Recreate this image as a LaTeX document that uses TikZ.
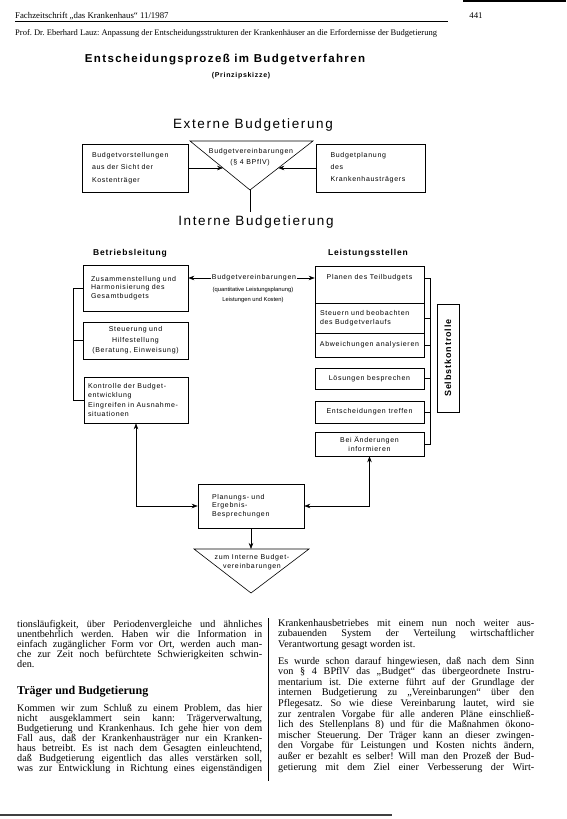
\documentclass[tikz,border=0pt]{standalone}
\usepackage{fontspec}
\setmainfont{Liberation Serif}
\newfontfamily\dg[LetterSpace=10]{Liberation Sans}
\newfontfamily\dgt[LetterSpace=12]{Liberation Sans}
\newfontfamily\dgn{Liberation Sans}
\usetikzlibrary{arrows.meta,calc}
\frenchspacing
\newcommand\jl[1]{\makebox[245pt][s]{#1}}
\newcommand\jr[1]{\makebox[256pt][s]{#1}}
\begin{document}
\begin{tikzpicture}[x=1pt,y=-1pt,
  ln/.style={line width=0.6pt},
  arr/.style={ln,-{Stealth[length=6pt,width=4.5pt]}},
  darr/.style={ln,{Stealth[length=6pt,width=4.5pt]}-{Stealth[length=6pt,width=4.5pt]}},
  bx/.style={draw,ln,inner ysep=0pt,align=left,font=\fontsize{7}{9}\dg},
  lbl/.style={font=\fontsize{7}{8}\dg,inner sep=1pt},
  txt/.style={anchor=base west,inner sep=0pt,font=\fontsize{10.2}{10.5}\selectfont},
  hd/.style={font=\fontsize{13.5}{15}\dgt}
]
\fill[white] (0,0) rectangle (566,819);
\useasboundingbox (0,0) rectangle (566,819);

% ---------- header ----------
\node[anchor=base west,inner sep=0pt,font=\fontsize{8.8}{10}\selectfont] (h1) at (15,18) {Fachzeitschrift „das Krankenhaus“ 11/1987};
\draw[line width=0.5pt] (h1.south west) ++(0,1.5) -- ++(433,0);
\node[anchor=base,inner sep=0pt,font=\fontsize{8.8}{10}\selectfont] (pg) at (476,18) {441};
\node[anchor=base west,inner sep=0pt,font=\fontsize{8.5}{10}\selectfont] (h2) at (15,35) {Prof. Dr. Eberhard Lauz: Anpassung der Entscheidungsstrukturen der Krankenhäuser an die Erfordernisse der Budgetierung};
\draw[line width=2.5pt] (463,1) -- (566,1);

% ---------- title ----------
\node[font=\fontsize{11.5}{13}\dgt\bfseries] (title) at (225,60) {Entscheidungsprozeß im Budgetverfahren};
\node[font=\fontsize{7}{8}\dg\bfseries] (sub) at (241,76) {(Prinzipskizze)};

% ---------- external budgeting ----------
\node[hd] (ext) at (253,125) {Externe Budgetierung};
\node[bx,minimum height=48pt,text width=86pt,inner xsep=10pt,font=\fontsize{7}{12.5}\dg] (kt) at (135,168) {Budgetvorstellungen\\aus der Sicht der\\Kostenträger};
\node[bx,minimum height=48pt,text width=80pt,inner xsep=14.5pt,font=\fontsize{7}{12}\dg] (kh) at (370.5,168) {Budgetplanung\\des\\Krankenhausträgers};
\coordinate (tl) at (190,141);
\coordinate (tr) at (313,141);
\coordinate (ta) at (250,190);
\draw[ln] (tl) -- (tr) -- (ta) -- cycle;
\node[lbl] (bv1) at (251,152) {Budgetvereinbarungen};
\node[lbl] (bv2) at (250,163) {(§ 4 BPflV)};
\coordinate (pL) at ($(tl)!0.551!(ta)$);
\coordinate (pR) at ($(tr)!0.551!(ta)$);
\draw[arr] (kt.east) -- (kt.east -| pL);
\draw[arr] (kh.west) -- (kh.west -| pR);
\node[hd] (int) at (256,222) {Interne Budgetierung};
\draw[ln] (ta) -- (ta |- int.north);

% ---------- internal budgeting ----------
\node[font=\fontsize{8.5}{10}\dg\bfseries] (bl) at (130,253) {Betriebsleitung};
\node[font=\fontsize{8.5}{10}\dg\bfseries] (ls) at (368,253) {Leistungsstellen};

\node[bx,minimum height=46pt,text width=89pt,inner xsep=8pt,font=\fontsize{7}{8.5}\dg] (b1) at (135.5,288) {Zusammenstellung und\\Harmonisierung des\\Gesamtbudgets};
\node[bx,minimum height=37pt,text width=95pt,inner xsep=5pt,align=center,font=\fontsize{7}{10.5}\dg] (b2) at (135.5,340.5) {Steuerung und\\Hilfestellung\\(Beratung, Einweisung)};
\node[bx,minimum height=46pt,text width=96pt,inner xsep=4pt,font=\fontsize{7}{9.5}\dg] (b3) at (136,400) {Kontrolle der Budget-\\entwicklung\\Eingreifen in Ausnahme-\\situationen};
\draw[ln] (b1.west) -- ++(-9,0) coordinate (lb) -- (lb |- b3.west) -- (b3.west);
\draw[ln] (b2.west) -- (b2.west -| lb);

\node[bx,minimum width=109pt,minimum height=37pt] (r1) at (369.5,284.5) {};
\node[lbl] (r1t) at (369.5,278) {Planen des Teilbudgets};
\node[bx,minimum height=30pt,text width=99pt,inner xsep=5pt] (r2) at (369.5,318) {Steuern und beobachten\\des Budgetverlaufs};
\node[bx,minimum width=109pt,minimum height=24pt,align=center] (r3) at (369.5,345) {Abweichungen analysieren};
\node[bx,minimum width=109pt,minimum height=21pt,align=center] (r4) at (369.5,378.5) {Lösungen besprechen};
\node[bx,minimum width=109pt,minimum height=22pt,align=center] (r5) at (369.5,412) {Entscheidungen treffen};
\node[bx,minimum width=109pt,minimum height=24pt,align=center] (r6) at (369.5,444) {Bei Änderungen\\informieren};
\draw[ln] (r1t.center -| r1.east) -- ++(6,0) coordinate (rb) -- (rb |- r6.east) -- (r6.east);
\foreach \n in {r2,r3,r4,r5} \draw[ln] (\n.east) -- (\n.east -| rb);

\node[draw,ln,rotate=90,minimum width=108pt,minimum height=22pt,inner sep=0pt,font=\fontsize{9}{10}\dg\bfseries] (sk) at (448,358) {Selbstkontrolle};

\node[lbl] (bvi) at (254,278) {Budgetvereinbarungen};
\draw[arr] (bvi.west) -- (bvi.west -| b1.east);
\draw[arr] (bvi.east) -- (bvi.east -| r1.west);
\node[font=\fontsize{5.8}{7}\dgn,inner sep=1pt] (ql) at (253,290) {(quantitative Leistungsplanung)};
\node[font=\fontsize{5.8}{7}\dgn,inner sep=1pt] (lk) at (253,300) {Leistungen und Kosten)};

\node[bx,minimum height=44pt,text width=78pt,inner xsep=14pt,font=\fontsize{7}{8.5}\dg] (bp) at (251,506) {Planungs- und\\Ergebnis-\\Besprechungen};
\draw[darr] (b3.south) |- (bp.west);
\draw[darr] (r6.south) |- (bp.east);

\coordinate (ul) at (194,549);
\coordinate (ur) at (309,549);
\coordinate (ua) at (251,593);
\draw[ln] (ul) -- (ur) -- (ua) -- cycle;
\draw[arr] (bp.south) -- (bp.south |- ul);
\node[lbl] (zi1) at (252,558) {zum Interne Budget-};
\node[lbl] (zi2) at (252,567) {vereinbarungen};

% ---------- body text ----------
\node[txt] (l1) at (17,627) {\jl{tionsläufigkeit, über Periodenvergleiche und ähnliches}};
\node[txt] (l2) at (17,637) {\jl{unentbehrlich werden. Haben wir die Information in}};
\node[txt] (l3) at (17,647) {\jl{einfach zugänglicher Form vor Ort, werden auch man-}};
\node[txt] (l4) at (17,657) {\jl{che zur Zeit noch befürchtete Schwierigkeiten schwin-}};
\node[txt] (l5) at (17,667) {den.};
\node[anchor=base west,inner sep=0pt,font=\fontsize{12}{14}\selectfont\bfseries] (hl) at (17,694) {Träger und Budgetierung};
\node[txt] (l6) at (17,711) {\jl{Kommen wir zum Schluß zu einem Problem, das hier}};
\node[txt] (l7) at (17,721) {\jl{nicht ausgeklammert sein kann: Trägerverwaltung,}};
\node[txt] (l8) at (17,731) {\jl{Budgetierung und Krankenhaus. Ich gehe hier von dem}};
\node[txt] (l9) at (17,741) {\jl{Fall aus, daß der Krankenhausträger nur ein Kranken-}};
\node[txt] (l10) at (17,751) {\jl{haus betreibt. Es ist nach dem Gesagten einleuchtend,}};
\node[txt] (l11) at (17,761) {\jl{daß Budgetierung eigentlich das alles verstärken soll,}};
\node[txt] (l12) at (17,771) {\jl{was zur Entwicklung in Richtung eines eigenständigen}};

\draw[line width=0.5pt] (268,618) -- (268,781);

\node[txt] (r01) at (278,626) {\jr{Krankenhausbetriebes mit einem nun noch weiter aus-}};
\node[txt] (r02) at (278,636.5) {\jr{zubauenden System der Verteilung wirtschaftlicher}};
\node[txt] (r03) at (278,647) {Verantwortung gesagt worden ist.};
\node[txt] (r04) at (278,664) {\jr{Es wurde schon darauf hingewiesen, daß nach dem Sinn}};
\node[txt] (r05) at (278,674.6) {\jr{von § 4 BPflV das „Budget“ das übergeordnete Instru-}};
\node[txt] (r06) at (278,685.2) {\jr{mentarium ist. Die externe führt auf der Grundlage der}};
\node[txt] (r07) at (278,695.8) {\jr{internen Budgetierung zu „Vereinbarungen“ über den}};
\node[txt] (r08) at (278,706.4) {\jr{Pflegesatz. So wie diese Vereinbarung lautet, wird sie}};
\node[txt] (r09) at (278,717) {\jr{zur zentralen Vorgabe für alle anderen Pläne einschließ-}};
\node[txt] (r10) at (278,727.6) {\jr{lich des Stellenplans 8) und für die Maßnahmen ökono-}};
\node[txt] (r11) at (278,738.2) {\jr{mischer Steuerung. Der Träger kann an dieser zwingen-}};
\node[txt] (r12) at (278,748.8) {\jr{den Vorgabe für Leistungen und Kosten nichts ändern,}};
\node[txt] (r13) at (278,759.4) {\jr{außer er bezahlt es selber! Will man den Prozeß der Bud-}};
\node[txt] (r14) at (278,770) {\jr{getierung mit dem Ziel einer Verbesserung der Wirt-}};

\draw[line width=1.8pt,black!75] (0,815) -- (392,815);
\end{tikzpicture}
\end{document}
